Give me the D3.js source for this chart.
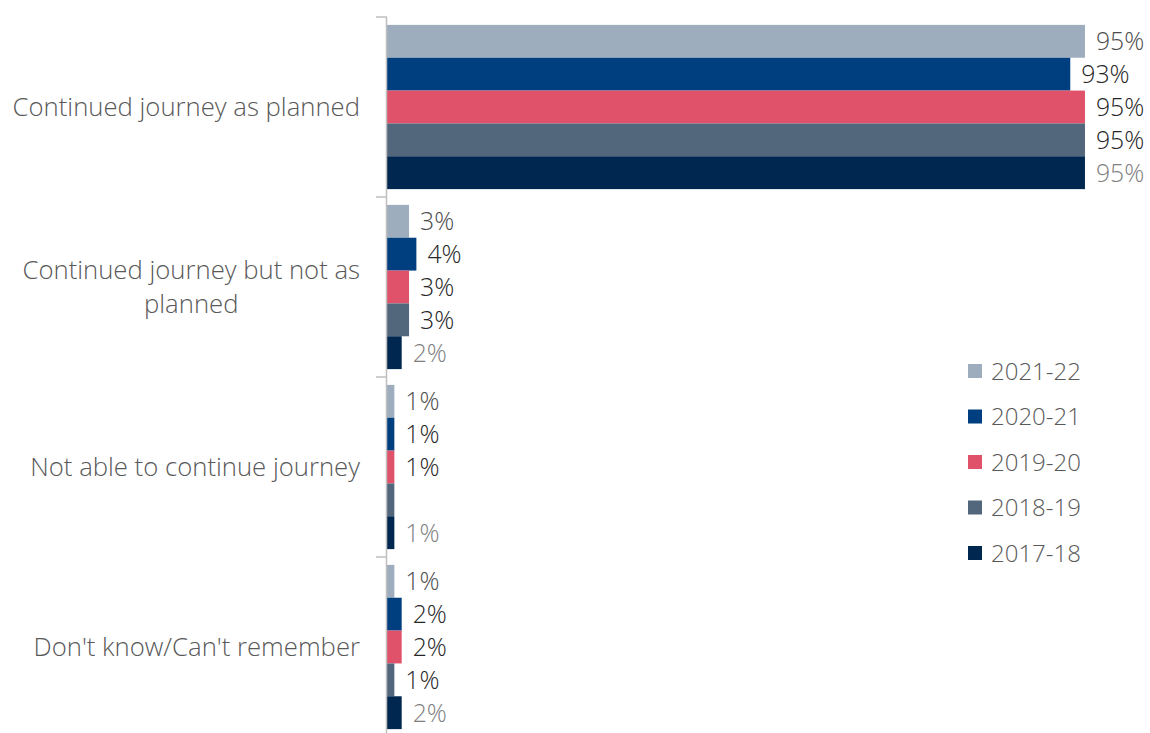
<!DOCTYPE html>
<html>
<head>
<meta charset="utf-8">
<script src="https://cdn.jsdelivr.net/npm/d3@7"></script>
<style>
  html, body { margin: 0; padding: 0; background: #ffffff; }
  svg { display: block; font-family: "Open Sans", "Noto Sans", sans-serif; font-weight: 300; }
</style>
</head>
<body>
<svg id="chart" width="1150" height="733"></svg>
<script>
// Categories (top to bottom) and their wrapped label lines
const categories = [
  "Continued journey as planned",
  "Continued journey but not as planned",
  "Not able to continue journey",
  "Don't know/Can't remember"
];
const categoryLines = [
  ["Continued journey as planned"],
  ["Continued journey but not as", "planned"],
  ["Not able to continue journey"],
  ["Don't know/Can't remember"]
];

// Survey years, drawn top to bottom within each category
const seriesNames = ["2021-22", "2020-21", "2019-20", "2018-19", "2017-18"];
const seriesColors = ["#9dadbd", "#003f7f", "#e0526a", "#52667c", "#002750"];
const labelColors = ["#4d4d4d", "#262626", "#262626", "#262626", "#808080"];

// Percentages per series, in category order
const values2021 = [95, 3, 1, 1];
const values2020 = [93, 4, 1, 2];
const values2019 = [95, 3, 1, 2];
const values2018 = [95, 3, 1, 1];
const values2017 = [95, 2, 1, 2];
// Which value labels are printed (one bar carries no label)
const shown2021 = [true, true, true, true];
const shown2020 = [true, true, true, true];
const shown2019 = [true, true, true, true];
const shown2018 = [true, true, false, true];
const shown2017 = [true, true, true, true];

const seriesValues = [values2021, values2020, values2019, values2018, values2017];
const seriesShown = [shown2021, shown2020, shown2019, shown2018, shown2017];

const svg = d3.select("#chart");

const plotLeft = 387, plotTop = 17, bandH = 180;
const x = d3.scaleLinear().domain([0, 100]).range([plotLeft, plotLeft + 734.7]);
const y = d3.scaleBand().domain(categories)
  .range([plotTop, plotTop + bandH * categories.length]).paddingInner(0).paddingOuter(0);
const inner = d3.scaleBand().domain(seriesNames)
  .range([0, y.bandwidth()]).paddingOuter(0.24).paddingInner(0);

// Bars
const rows = [];
categories.forEach((c, ci) => {
  seriesNames.forEach((s, si) => {
    rows.push({ cat: c, ser: s, si, v: seriesValues[si][ci], shown: seriesShown[si][ci] });
  });
});

svg.append("g").selectAll("rect").data(rows).join("rect")
  .attr("x", x(0))
  .attr("y", d => y(d.cat) + inner(d.ser))
  .attr("width", d => x(d.v) - x(0))
  .attr("height", inner.bandwidth())
  .attr("fill", d => seriesColors[d.si]);

// Value labels
svg.append("g").selectAll("text").data(rows.filter(d => d.shown)).join("text")
  .attr("x", d => x(d.v) + 11)
  .attr("y", d => y(d.cat) + inner(d.ser) + inner.bandwidth() / 2)
  .attr("dy", "0.36em")
  .attr("font-size", 24.8)
  .attr("fill", d => labelColors[d.si])
  .text(d => d.v + "%");

// Category axis with outward ticks at band boundaries
const axisG = svg.append("g");
axisG.append("line")
  .attr("x1", plotLeft - 0.5).attr("x2", plotLeft - 0.5)
  .attr("y1", plotTop).attr("y2", plotTop + bandH * categories.length)
  .attr("stroke", "#bfbfbf").attr("stroke-width", 1.5);
const boundaries = categories.map(c => y(c)).concat([y.range()[1]]);
axisG.selectAll("line.tick").data(boundaries).join("line")
  .attr("class", "tick")
  .attr("x1", plotLeft - 11).attr("x2", plotLeft)
  .attr("y1", d => d).attr("y2", d => d)
  .attr("stroke", "#bfbfbf").attr("stroke-width", 1.5);

// Category labels: block right-aligned, wrapped lines centred within the block
const labelRight = 360, lineH = 34;
categoryLines.forEach((lines, ci) => {
  const cy = y(categories[ci]) + y.bandwidth() / 2;
  const g = svg.append("g");
  const texts = lines.map((ln, li) => g.append("text")
    .attr("font-size", 25.7)
    .attr("fill", "#595959")
    .attr("y", cy + (li - (lines.length - 1) / 2) * lineH)
    .attr("dy", "0.35em")
    .text(ln));
  const maxW = d3.max(texts, t => t.node().getComputedTextLength());
  texts.forEach(t => t.attr("text-anchor", "middle").attr("x", labelRight - maxW / 2));
});

// Legend
const legend = svg.append("g").attr("transform", "translate(968, 371)");
seriesNames.forEach((s, i) => {
  const row = legend.append("g").attr("transform", `translate(0, ${i * 45.5})`);
  row.append("rect").attr("x", 0).attr("y", -7).attr("width", 14).attr("height", 14)
    .attr("fill", seriesColors[i]);
  row.append("text").attr("x", 23).attr("y", 0).attr("dy", "0.36em")
    .attr("font-size", 24).attr("fill", "#595959").text(s);
});
</script>
</body>
</html>
